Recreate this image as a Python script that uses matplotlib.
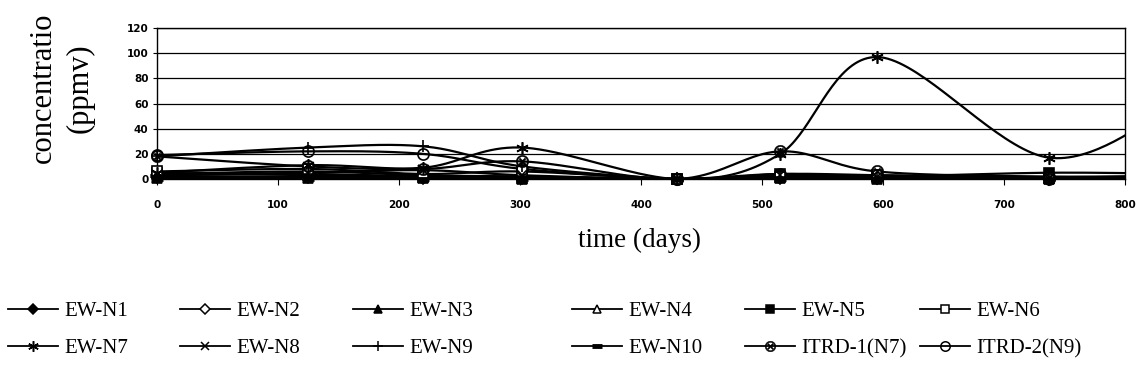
import numpy as np
import matplotlib
matplotlib.use("Agg")
import matplotlib.pyplot as plt
from matplotlib.lines import Line2D

# Sampling days (the last one lies past the visible 0-800 window)
days = [0, 125, 220, 302, 430, 515, 595, 737, 850]

ew_n1 = [2, 2, 1, 1, 0, 1, 1, 0, 0]
ew_n2 = [3, 4, 2, 2, 0, 2, 1, 0, 1]
ew_n3 = [1, 1, 1, 0, 0, 1, 0, 0, 0]
ew_n4 = [4, 6, 3, 2, 0, 3, 2, 1, 1]
ew_n5 = [5, 3, 2, 1, 0, 4, 2, 5, 4]
ew_n6 = [6, 8, 4, 6, 0, 2, 3, 1, 2]
ew_n7 = [5, 11, 9, 25, 0, 20, 97, 17, 65]
ew_n8 = [3, 5, 7, 3, 0, 3, 2, 0, 1]
ew_n9 = [18, 25, 26, 10, 0, 2, 1, 0, 0]
ew_n10 = [0, 0, 0, 0, 0, 0, 0, 0, 0]
itrd_1 = [18, 10, 8, 14, 0, 22, 6, 2, 3]
itrd_2 = [19, 22, 20, 8, 0, 4, 3, 0, 1]

labels = ["EW-N1", "EW-N2", "EW-N3", "EW-N4", "EW-N5", "EW-N6",
          "EW-N7", "EW-N8", "EW-N9", "EW-N10", "ITRD-1(N7)", "ITRD-2(N9)"]
values = [ew_n1, ew_n2, ew_n3, ew_n4, ew_n5, ew_n6,
          ew_n7, ew_n8, ew_n9, ew_n10, itrd_1, itrd_2]

x_ticks = [0, 100, 200, 300, 400, 500, 600, 700, 800]
y_ticks = [0, 20, 40, 60, 80, 100, 120]

# marker styles per series
styles = [
    dict(marker="D", ms=6, mfc="black"),
    dict(marker="D", ms=6, mfc="white"),
    dict(marker="^", ms=7, mfc="black"),
    dict(marker="^", ms=7, mfc="white"),
    dict(marker="s", ms=7, mfc="black"),
    dict(marker="s", ms=7, mfc="white"),
    dict(marker=(6, 2, 0), ms=9, mfc="black"),
    dict(marker="x", ms=7, mfc="black"),
    dict(marker="+", ms=9, mfc="black"),
    dict(marker="_", ms=8, mfc="black", mew=3.5),
    dict(marker=r"$\otimes$", ms=9, mfc="black", mew=0.3),
    dict(marker="o", ms=8, mfc="none"),
]


def smooth(x, y, n=40):
    """Spreadsheet-style smoothed curve (cubic Bezier, 1/6 tangents)."""
    pts = np.column_stack([x, y]).astype(float)
    padded = np.vstack([pts[0], pts, pts[-1]])
    t = np.linspace(0, 1, n)[:, None]
    parts = []
    for i in range(len(pts) - 1):
        p0, p1, p2, p3 = padded[i], padded[i + 1], padded[i + 2], padded[i + 3]
        c1 = p1 + (p2 - p0) / 6.0
        c2 = p2 - (p3 - p1) / 6.0
        seg = ((1 - t) ** 3) * p1 + 3 * ((1 - t) ** 2) * t * c1 \
            + 3 * (1 - t) * (t ** 2) * c2 + (t ** 3) * p2
        parts.append(seg if i == 0 else seg[1:])
    xy = np.vstack(parts)
    return xy[:, 0], xy[:, 1]


fig = plt.figure(figsize=(11.39, 3.85), dpi=100)
ax = fig.add_axes([0.1378, 0.535, 0.850, 0.392])

xmax = 800
for vals, st in zip(values, styles):
    sx, sy = smooth(days, vals)
    ax.plot(sx, sy, color="black", lw=1.6, zorder=3)
    d = np.array(days)
    v = np.array(vals)
    keep = d <= xmax
    ax.plot(d[keep], v[keep], ls="none", color="black",
            marker=st["marker"], ms=st["ms"], mfc=st["mfc"], mec="black",
            mew=st.get("mew", 1.2), zorder=4, clip_on=False)

ax.set_xlim(0, xmax)
ax.set_ylim(0, 120)
ax.set_xticks(x_ticks)
ax.set_yticks(y_ticks)
ax.yaxis.grid(True, color="black", lw=0.9)
ax.set_axisbelow(True)
for sp in ax.spines.values():
    sp.set_color("black")
    sp.set_linewidth(1.0)
ax.tick_params(axis="x", direction="out", length=4, width=0.8, pad=11,
               labelsize=7.5)
ax.tick_params(axis="y", direction="out", length=3, width=0.8, pad=3,
               labelsize=7.5)
for lab in ax.get_xticklabels() + ax.get_yticklabels():
    lab.set_fontweight("bold")

serif = ["Liberation Serif", "DejaVu Serif"]
fig.text(62 / 1139, 1 - 88 / 385, "concentratio\n(ppmv)", rotation=90,
         ha="center", va="center", fontsize=22, family=serif, linespacing=1.35)
fig.text(640 / 1139, 1 - 240 / 385, "time (days)", ha="center", va="center",
         fontsize=19.5, family=serif)

# legend: six columns of two rows
handles = []
for st in styles:
    handles.append(Line2D([], [], color="black", lw=1.3, marker=st["marker"],
                          ms=st["ms"] * 0.85, mfc=st["mfc"], mec="black",
                          mew=st.get("mew", 1.1)))
col_x = [8, 180, 353, 572, 745, 920]
for c in range(6):
    hs = [handles[c], handles[c + 6]]
    ls = [labels[c], labels[c + 6]]
    fig.legend(hs, ls, loc="center left",
               bbox_to_anchor=(col_x[c] / 1139, 1 - 330 / 385),
               frameon=False, borderpad=0, borderaxespad=0,
               handlelength=2.4, handletextpad=0.3, labelspacing=0.85,
               prop=dict(family=serif, size=15))

fig.savefig("out.png", dpi=100)
